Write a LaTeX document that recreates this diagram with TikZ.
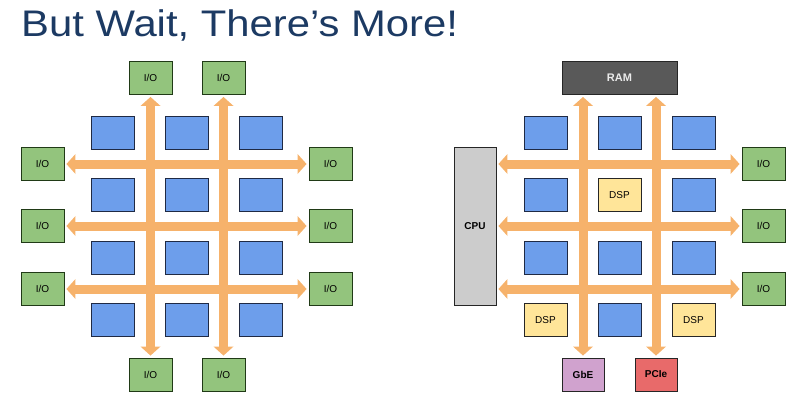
\documentclass[tikz,border=0pt]{standalone}
\usepackage{fontspec}
\setmainfont{Liberation Sans}
\newfontfamily\titlefont[FakeStretch=1.13]{Liberation Sans}
\usetikzlibrary{arrows.meta}

\definecolor{titleblue}{HTML}{1C3A63}
\definecolor{tileblue}{HTML}{6D9EEB}
\definecolor{tileedge}{HTML}{1F2A44}
\definecolor{iogreen}{HTML}{93C47D}
\definecolor{ioedge}{HTML}{203A16}
\definecolor{busorange}{HTML}{F6B26B}
\definecolor{dspyellow}{HTML}{FFE599}
\definecolor{cpugray}{HTML}{CCCCCC}
\definecolor{ramgray}{HTML}{595959}
\definecolor{gbepink}{HTML}{D0A2CE}
\definecolor{pcired}{HTML}{E86A6A}

\tikzset{
  box/.style={draw=black!85, line width=0.9pt, inner sep=0pt,
    minimum width=43pt, minimum height=33pt, font=\fontsize{10}{11}\selectfont},
  tile/.style={box, fill=tileblue, draw=tileedge},
  io/.style={box, fill=iogreen, draw=ioedge},
  dsp/.style={box, fill=dspyellow},
  hard/.style={box, font=\fontsize{10}{11}\selectfont\bfseries},
  bus/.style={draw=busorange, line width=9pt,
    {Triangle[width=20pt,length=9pt,line width=0pt]}-{Triangle[width=20pt,length=9pt,line width=0pt]},
    shorten <=2pt, shorten >=2pt},
}

\begin{document}
\begin{tikzpicture}[x=1pt, y=-1pt]
  \useasboundingbox (0,0) rectangle (800,401);

  \node[anchor=base west, inner sep=0pt, text=titleblue, font=\titlefont\fontsize{37}{40}\selectfont] (title) at (21,37) {But Wait, There’s More!};

  % left: mesh of tiles with I/O all round
  \foreach \c/\x in {1/113, 2/187, 3/261}
    \foreach \r/\y in {1/133, 2/195, 3/258, 4/320}
      \node[tile] (lt-\r\c) at (\x,\y) {};

  \node[io] (io-t1) at (150.5,78) {I/O};
  \node[io] (io-t2) at (223.5,78) {I/O};
  \node[io] (io-b1) at (150.5,374.5) {I/O};
  \node[io] (io-b2) at (223.5,374.5) {I/O};
  \foreach \r/\y in {1/164, 2/226, 3/289} {
    \node[io] (io-l\r) at (42.5,\y) {I/O};
    \node[io] (io-r\r) at (330.5,\y) {I/O};
  }

  \foreach \r in {1,2,3}
    \draw[bus] (io-l\r) -- (io-r\r);
  \draw[bus] (io-t1) -- (io-b1);
  \draw[bus] (io-t2) -- (io-b2);

  % right: same mesh, hard blocks at the edges
  \foreach \c/\x in {1/545.5, 2/619.5, 3/693.5}
    \foreach \r/\y in {1/133, 2/195, 3/258, 4/320}
      \node[tile] (rt-\r\c) at (\x,\y) {};
  \node[dsp] at (rt-22) {DSP};
  \node[dsp] at (rt-41) {DSP};
  \node[dsp] at (rt-43) {DSP};

  \node[hard, fill=ramgray, minimum width=115pt, text=white!92!black, font=\fontsize{11}{12}\selectfont\bfseries] (ram) at (619.5,78) {RAM};
  \node[hard, fill=cpugray, minimum width=42pt, minimum height=158pt] (cpu) at (475,226) {CPU};
  \node[hard, fill=gbepink, minimum width=42pt] (gbe) at (583,374.5) {GbE};
  \node[hard, fill=pcired, minimum width=42pt] (pcie) at (656,374.5) {PCIe};
  \foreach \r/\y in {1/164, 2/226, 3/289}
    \node[io] (io-e\r) at (763.5,\y) {I/O};

  \foreach \r in {1,2,3}
    \draw[bus] (cpu.east |- io-e\r) -- (io-e\r);
  \draw[bus] (ram.south -| gbe) -- (gbe);
  \draw[bus] (ram.south -| pcie) -- (pcie);
\end{tikzpicture}
\end{document}
